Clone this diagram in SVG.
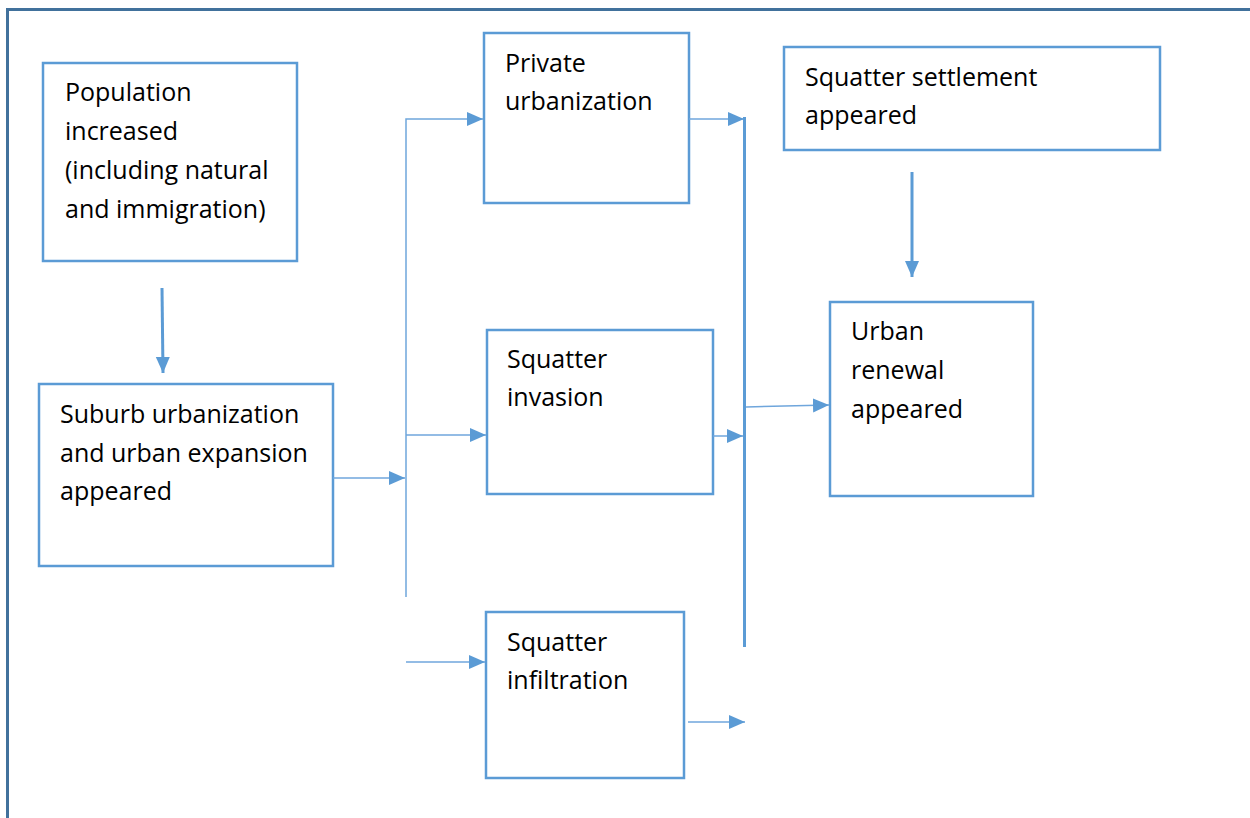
<svg xmlns="http://www.w3.org/2000/svg" width="1250" height="818" viewBox="0 0 1250 818">
<style>
.box{fill:#fff;stroke:#5B9BD5;stroke-width:2.5}
.t{font-family:"Open Sans","Noto Sans","Liberation Sans",sans-serif;font-size:25px;fill:#000;font-variant-ligatures:none}
.thin{fill:none;stroke:#6FA6DC;stroke-width:1.5}
.thick{fill:none;stroke:#5B9BD5;stroke-width:3}
</style>
<defs>
<marker id="ah" markerUnits="userSpaceOnUse" markerWidth="18" markerHeight="16" refX="16" refY="7" orient="auto">
<path d="M0,0 L16,7 L0,14 Z" fill="#5B9BD5"/>
</marker>
</defs>
<rect width="1250" height="818" fill="#fff"/>
<path d="M7.5,818 V9.5 H1250" fill="none" stroke="#41719C" stroke-width="3"/>
<g id="n1"><rect class="box" x="43" y="63" width="254" height="198"/>
<text class="t" x="65" y="101">Population</text><text class="t" x="65" y="140">increased</text><text class="t" x="65" y="179">(including natural</text><text class="t" x="65" y="218">and immigration)</text></g>
<g id="n2"><rect class="box" x="39" y="384" width="294" height="182"/>
<text class="t" x="60" y="423">Suburb urbanization</text><text class="t" x="60" y="462">and urban expansion</text><text class="t" x="60" y="500">appeared</text></g>
<g id="n3"><rect class="box" x="484" y="33" width="205" height="170"/>
<text class="t" x="505" y="72">Private</text><text class="t" x="505" y="110">urbanization</text></g>
<g id="n4"><rect class="box" x="487" y="330" width="226" height="164"/>
<text class="t" x="507" y="368">Squatter</text><text class="t" x="507" y="406">invasion</text></g>
<g id="n5"><rect class="box" x="486" y="612" width="198" height="166"/>
<text class="t" x="507" y="651">Squatter</text><text class="t" x="507" y="689">infiltration</text></g>
<g id="n6"><rect class="box" x="784" y="47" width="376" height="103"/>
<text class="t" x="805" y="86">Squatter settlement</text><text class="t" x="805" y="124">appeared</text></g>
<g id="n7"><rect class="box" x="830" y="302" width="203" height="194"/>
<text class="t" x="851" y="340">Urban</text><text class="t" x="851" y="379">renewal</text><text class="t" x="851" y="418">appeared</text></g>
<g id="connectors">
<line class="thick" x1="162" y1="288" x2="163" y2="373" marker-end="url(#ah)"/>
<line class="thick" x1="912" y1="172" x2="912" y2="277" marker-end="url(#ah)"/>
<line class="thin" x1="333" y1="478" x2="405" y2="478" marker-end="url(#ah)"/>
<path class="thin" d="M406,597 V119 H483" marker-end="url(#ah)"/>
<line class="thin" x1="406" y1="435" x2="486" y2="435" marker-end="url(#ah)"/>
<line class="thin" x1="406" y1="662" x2="485" y2="662" marker-end="url(#ah)"/>
<line class="thin" x1="689" y1="119" x2="744" y2="119" marker-end="url(#ah)"/>
<line class="thin" x1="713" y1="436" x2="743" y2="436" marker-end="url(#ah)"/>
<line class="thin" x1="688" y1="722" x2="745" y2="722" marker-end="url(#ah)"/>
<line class="thick" x1="744.5" y1="117" x2="744.5" y2="647"/>
<line class="thin" x1="746" y1="407" x2="829" y2="405" marker-end="url(#ah)"/>
</g>
</svg>
